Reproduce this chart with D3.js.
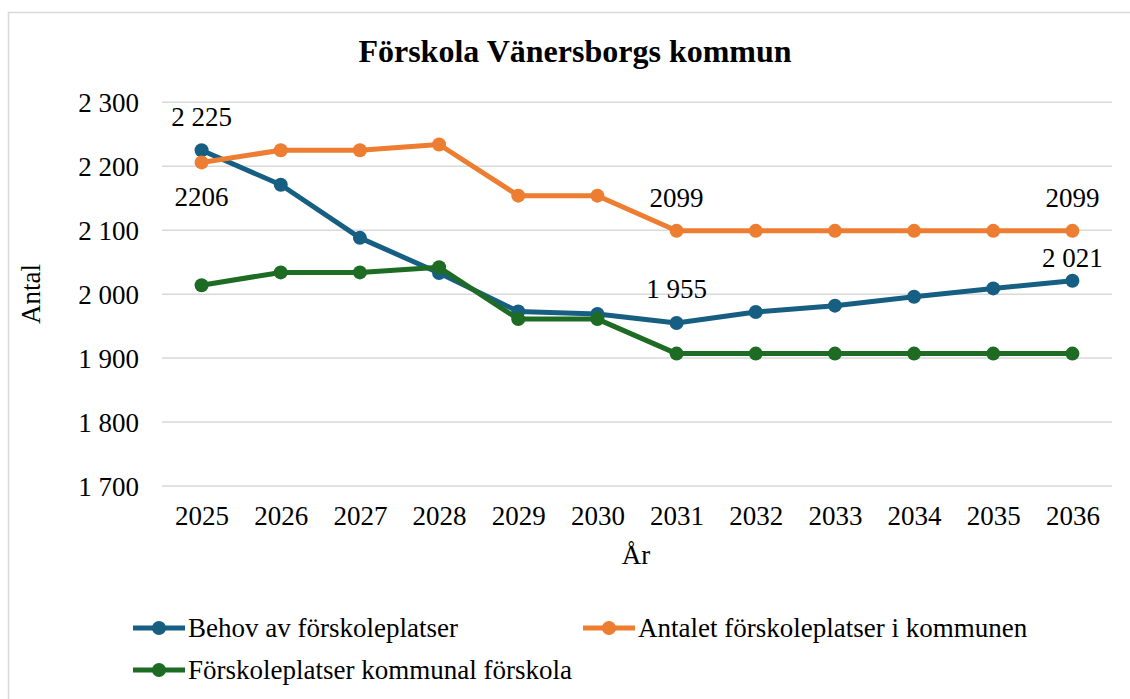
<!DOCTYPE html>
<html>
<head>
<meta charset="utf-8">
<script src="https://cdn.jsdelivr.net/npm/d3@7"></script>
<style>
  body { margin: 0; background: #fff; }
  text { font-family: "Liberation Serif", "Times New Roman", serif; fill: #000; }
</style>
</head>
<body>
<script>
// chart data
var years = ["2025", "2026", "2027", "2028", "2029", "2030", "2031", "2032", "2033", "2034", "2035", "2036"];
var behov = [2225, 2171, 2088, 2033, 1973, 1969, 1955, 1972, 1982, 1996, 2009, 2021];
var antalet = [2206, 2225, 2225, 2234, 2154, 2154, 2099, 2099, 2099, 2099, 2099, 2099];
var kommunal = [2014, 2034, 2034, 2042, 1961, 1961, 1907, 1907, 1907, 1907, 1907, 1907];
var seriesNames = ["Behov av förskoleplatser", "Antalet förskoleplatser i kommunen", "Förskoleplatser kommunal förskola"];
var yTicks = [1700, 1800, 1900, 2000, 2100, 2200, 2300];
var labelTexts = [
    {series: 0, year: "2025", text: "2 225"},
    {series: 1, year: "2025", text: "2206"},
    {series: 1, year: "2031", text: "2099"},
    {series: 0, year: "2031", text: "1 955"},
    {series: 1, year: "2036", text: "2099"},
    {series: 0, year: "2036", text: "2 021"}
];

// label offsets from the point (px)
var labelDy = [-24, 44, -24, -25, -24, -14];

var colors = ["#175f82", "#ed7d31", "#1e6b24"];
var allSeries = [behov, antalet, kommunal];

var fullWidth = 1130;
var fullHeight = 699;
var fontSize = "27px";

var svg = d3.select("body")
            .append("svg")
            .attr("width", fullWidth)
            .attr("height", fullHeight);

// chart border
svg.append("rect")
   .attr("x", 8.5)
   .attr("y", 12.5)
   .attr("width", 1140)
   .attr("height", 700)
   .attr("fill", "none")
   .attr("stroke", "#d9d9d9")
   .attr("stroke-width", 1.5);

var xScale = d3.scalePoint()
               .domain(years)
               .range([162, 1112])
               .padding(0.5);

var yScale = d3.scaleLinear()
               .domain([1700, 2300])
               .range([486, 102.3]);

// gridlines
svg.append("g")
   .selectAll("line")
   .data(yTicks)
   .enter()
   .append("line")
   .attr("x1", 162)
   .attr("x2", 1112)
   .attr("y1", function(d) { return yScale(d); })
   .attr("y2", function(d) { return yScale(d); })
   .attr("stroke", "#d9d9d9")
   .attr("stroke-width", 1.5);

// y axis labels
var yAxis = d3.axisLeft(yScale)
              .tickValues(yTicks)
              .tickSize(0)
              .tickPadding(0)
              .tickFormat(function(d) { return d3.format(",")(d).replace(",", " "); });

svg.append("g")
   .attr("transform", "translate(139,0)")
   .call(yAxis)
   .call(function(g) { g.select(".domain").remove(); })
   .selectAll("text")
   .style("font-family", "Liberation Serif")
   .style("font-size", fontSize)
   .attr("dy", "0.35em");

// x axis labels
var xAxis = d3.axisBottom(xScale).tickSize(0).tickPadding(0);
svg.append("g")
   .attr("transform", "translate(0,506)")
   .call(xAxis)
   .call(function(g) { g.select(".domain").remove(); })
   .selectAll("text")
   .style("font-family", "Liberation Serif")
   .style("font-size", fontSize)
   .attr("dy", "0.7em");

// title
svg.append("text")
   .attr("x", 575)
   .attr("y", 62)
   .attr("text-anchor", "middle")
   .style("font-size", "32px")
   .style("font-weight", "bold")
   .text("Förskola Vänersborgs kommun");

// axis titles
svg.append("text")
   .attr("x", 636)
   .attr("y", 564)
   .attr("text-anchor", "middle")
   .style("font-size", fontSize)
   .text("År");

svg.append("text")
   .attr("transform", "translate(40,294) rotate(-90)")
   .attr("text-anchor", "middle")
   .style("font-size", fontSize)
   .text("Antal");

// lines and markers
var line = d3.line()
             .x(function(d, i) { return xScale(years[i]); })
             .y(function(d) { return yScale(d); });

allSeries.forEach(function(values, s) {
    svg.append("path")
       .datum(values)
       .attr("d", line)
       .attr("fill", "none")
       .attr("stroke", colors[s])
       .attr("stroke-width", 5)
       .attr("stroke-linejoin", "round");

    svg.append("g")
       .selectAll("circle")
       .data(values)
       .enter()
       .append("circle")
       .attr("cx", function(d, i) { return xScale(years[i]); })
       .attr("cy", function(d) { return yScale(d); })
       .attr("r", 7)
       .attr("fill", colors[s]);
});

// data labels
svg.append("g")
   .selectAll("text")
   .data(labelTexts)
   .enter()
   .append("text")
   .attr("x", function(d) { return xScale(d.year); })
   .attr("y", function(d, i) {
       return yScale(allSeries[d.series][years.indexOf(d.year)]) + labelDy[i];
   })
   .attr("text-anchor", "middle")
   .style("font-size", fontSize)
   .text(function(d) { return d.text; });

// legend
var legendPos = [[133, 628], [583, 628], [133, 670]];
var legend = svg.selectAll(".legend")
                .data(seriesNames)
                .enter()
                .append("g")
                .attr("class", "legend")
                .attr("transform", function(d, i) {
                    return "translate(" + legendPos[i][0] + "," + legendPos[i][1] + ")";
                });

legend.append("line")
      .attr("x1", 0)
      .attr("x2", 52)
      .attr("stroke", function(d, i) { return colors[i]; })
      .attr("stroke-width", 5);

legend.append("circle")
      .attr("cx", 26)
      .attr("r", 7)
      .attr("fill", function(d, i) { return colors[i]; });

legend.append("text")
      .attr("x", 55)
      .attr("dy", "0.35em")
      .style("font-size", fontSize)
      .text(function(d) { return d; });
</script>
</body>
</html>
